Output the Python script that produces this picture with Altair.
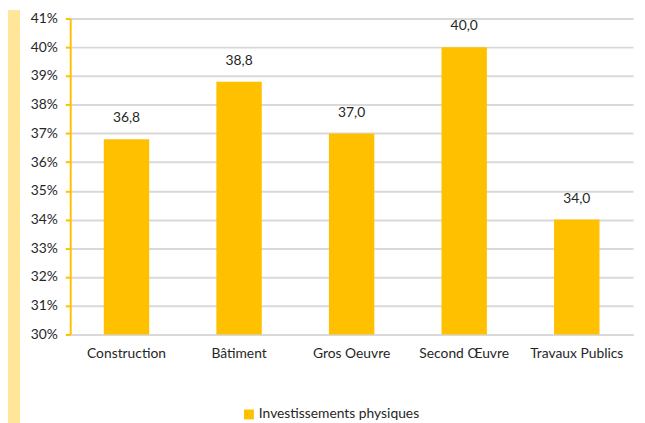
import altair as alt
import pandas as pd

categories = ["Construction", "Bâtiment", "Gros Oeuvre", "Second Œuvre", "Travaux Publics"]
values = [36.8, 38.8, 37.0, 40.0, 34.0]
series_name = "Investissements physiques"
y_ticks = [30, 31, 32, 33, 34, 35, 36, 37, 38, 39, 40, 41]

df = pd.DataFrame({"cat": categories, "v": values, "series": [series_name] * len(categories)})

W, H = 570, 320
FONT = "Lato"
FS = 14
TXT = "#262626"

xaxis = alt.Axis(labelAngle=0, ticks=False, domainColor="#d9d9d9", domainWidth=2,
                 labelPadding=12, labelFontSize=FS, labelColor=TXT, labelFont=FONT)
yaxis = alt.Axis(values=y_ticks, labelExpr="datum.value + '%'", domainColor="#FFC000",
                 domainWidth=2, tickColor="#FFC000", tickWidth=2, tickSize=5,
                 labelPadding=8, gridColor="#d9d9d9", gridWidth=2, labelOverlap=False,
                 labelFontSize=FS, labelColor=TXT, labelFont=FONT)
xscale = alt.Scale(paddingInner=0.6, paddingOuter=0.3)
yscale = alt.Scale(domain=[30, 41], zero=False, nice=False)

bars = alt.Chart(df).mark_bar(width=46).encode(
    x=alt.X("cat:N", sort=categories, title=None, scale=xscale, axis=xaxis),
    y=alt.Y("v:Q", scale=yscale, title=None, axis=yaxis),
    y2=alt.datum(30),
    color=alt.Color("series:N", scale=alt.Scale(range=["#FFC000"]), title=None,
                    legend=alt.Legend(orient="none", legendX=174, legendY=394, symbolType="square",
                                      symbolSize=100, symbolStrokeWidth=0, labelFontSize=FS,
                                      labelLimit=0, labelColor=TXT, labelFont=FONT, labelOffset=3)),
)

labels = alt.Chart(df).transform_calculate(
    lbl="replace(format(datum.v, '.1f'), '.', ',')"
).mark_text(baseline="middle", dy=-21, fontSize=FS, color=TXT, font=FONT).encode(
    x=alt.X("cat:N", sort=categories, title=None, scale=xscale, axis=xaxis),
    y=alt.Y("v:Q", scale=yscale, title=None, axis=yaxis),
    text="lbl:N",
)

strip = alt.Chart(df).mark_rect(color="#FFE699").encode(
    x=alt.value(-63), x2=alt.value(-51), y=alt.value(-8), y2=alt.value(H + 200)
)

chart = alt.layer(strip, bars, labels).properties(
    width=W, height=H,
    autosize=alt.AutoSizeParams(type="none"),
    padding={"left": 63, "top": 8, "right": 4, "bottom": 87},
).configure_view(stroke=None)

chart.save("out.html", embed_options={"renderer": "svg", "actions": False})
